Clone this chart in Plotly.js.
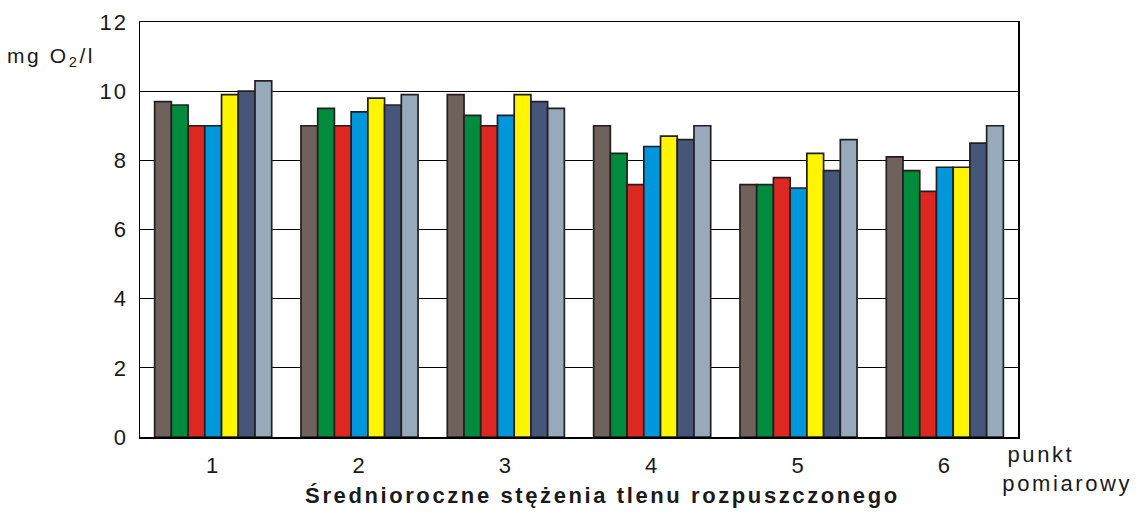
<!DOCTYPE html>
<html>
<head>
<meta charset="utf-8">
<script src="https://cdn.plot.ly/plotly-3.0.1.min.js"></script>
<style>
html,body{margin:0;padding:0;background:#fff;}
#chart{width:1147px;height:514px;}
#chart .annotation-text{letter-spacing:2.6px;}
#chart .ytick text,#chart .xtick text{letter-spacing:2px;}
</style>
</head>
<body>
<div id="chart"></div>
<script>
const categories = ["1", "2", "3", "4", "5", "6"];
const series1 = [9.7, 9.0, 9.9, 9.0, 7.3, 8.1];
const series2 = [9.6, 9.5, 9.3, 8.2, 7.3, 7.7];
const series3 = [9.0, 9.0, 9.0, 7.3, 7.5, 7.1];
const series4 = [9.0, 9.4, 9.3, 8.4, 7.2, 7.8];
const series5 = [9.9, 9.8, 9.9, 8.7, 8.2, 7.8];
const series6 = [10.0, 9.6, 9.7, 8.6, 7.7, 8.5];
const series7 = [10.3, 9.9, 9.5, 9.0, 8.6, 9.0];
const yTicks = [0, 2, 4, 6, 8, 10, 12];

const allSeries = [series1, series2, series3, series4, series5, series6, series7];
const colors = ["#6f625c", "#008c3c", "#dc2820", "#0096dc", "#fff500", "#465678", "#96aabb"];

const traces = allSeries.map((s, i) => ({
  type: "bar",
  x: categories,
  y: s,
  name: "seria " + (i + 1),
  marker: { color: colors[i], line: { color: "#231f20", width: 1.7 } },
  hoverinfo: "x+y"
}));

const font = { family: "Liberation Sans, Arial, sans-serif", color: "#1a1a1a" };

const layout = {
  width: 1147, height: 514,
  margin: { l: 140, r: 129, t: 22, b: 77 },
  paper_bgcolor: "#fff", plot_bgcolor: "#fff",
  showlegend: false,
  barmode: "group",
  bargap: 0.2,
  bargroupgap: 0,
  font: Object.assign({ size: 22 }, font),
  xaxis: {
    type: "category",
    showgrid: false,
    showline: true, linecolor: "#000", linewidth: 1.5, mirror: true,
    ticks: "", ticklen: 0,
    ticklabelstandoff: 8,
    tickfont: Object.assign({ size: 22 }, font),
    zeroline: false
  },
  yaxis: {
    range: [0, 12],
    tickvals: yTicks,
    ticktext: yTicks.map(String),
    showgrid: true, gridcolor: "#000", gridwidth: 1.2,
    showline: true, linecolor: "#000", linewidth: 1.5, mirror: true,
    ticks: "", ticklen: 0,
    ticklabelstandoff: 6,
    tickfont: Object.assign({ size: 22 }, font),
    zeroline: false
  },
  annotations: [
    { text: "mg O<sub>2</sub>/l", xref: "paper", yref: "paper", x: -0.143, y: 0.916, xanchor: "left", yanchor: "middle", showarrow: false, font: Object.assign({ size: 21 }, font) },
    { text: "punkt", xref: "paper", yref: "paper", x: 0.993, y: -0.042, xanchor: "left", yanchor: "middle", showarrow: false, font: Object.assign({ size: 22 }, font) },
    { text: "pomiarowy", xref: "paper", yref: "paper", x: 0.993, y: -0.111, xanchor: "left", yanchor: "middle", showarrow: false, font: Object.assign({ size: 22 }, font) },
    { text: "<b>Średnioroczne stężenia tlenu rozpuszczonego</b>", xref: "paper", yref: "paper", x: 0.527, y: -0.14, xanchor: "center", yanchor: "middle", showarrow: false, font: Object.assign({ size: 22 }, font) }
  ]
};

Plotly.newPlot("chart", traces, layout, { displayModeBar: false, staticPlot: true });
</script>
</body>
</html>
